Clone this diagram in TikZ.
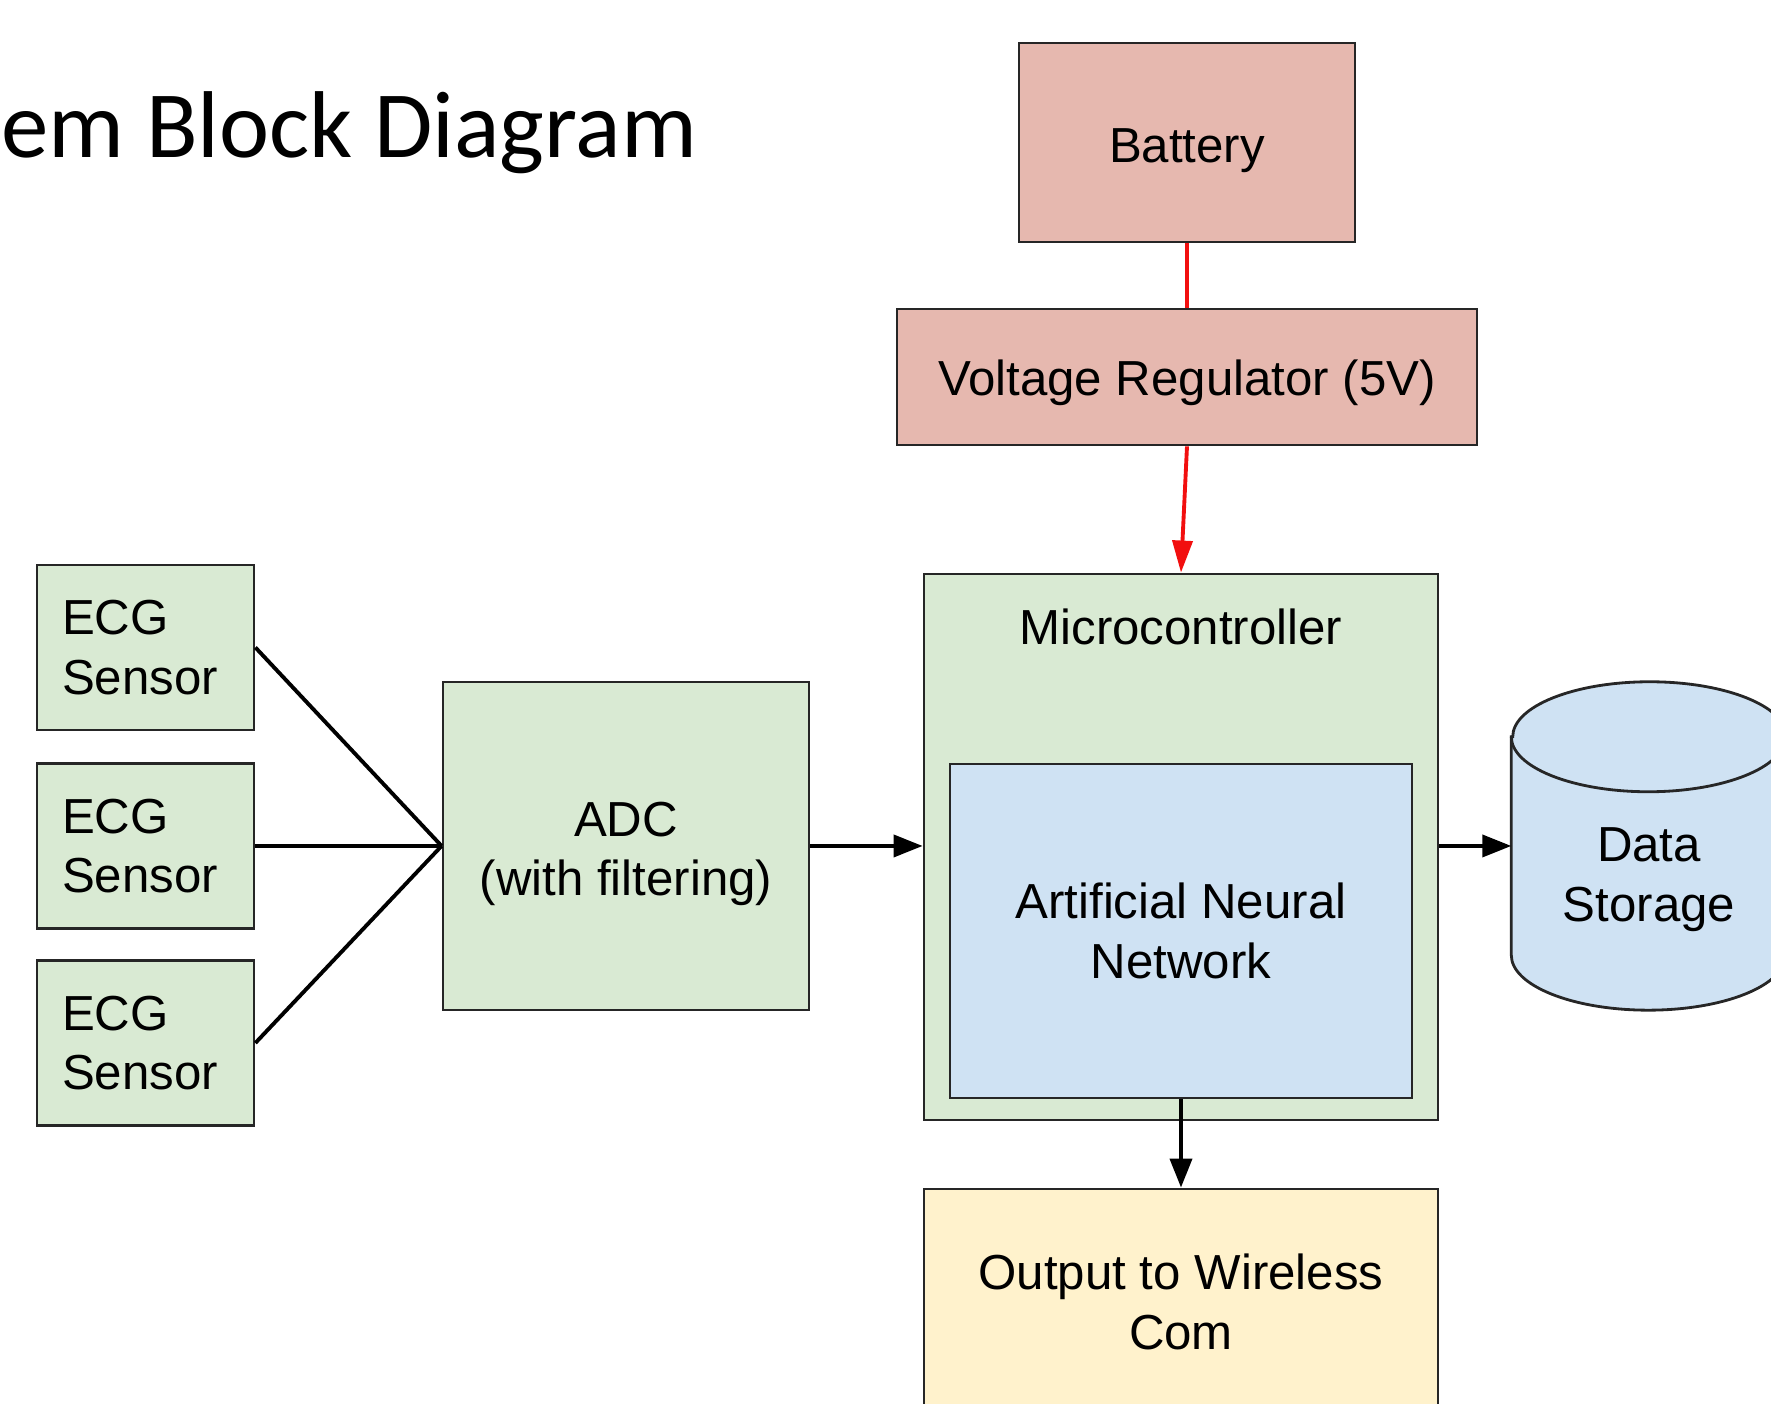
\documentclass[tikz,border=0pt]{standalone}
\usepackage{fontspec}
\setmainfont{Liberation Sans}
\newfontfamily\slidefont{Carlito}
\usetikzlibrary{arrows.meta,positioning,calc}
\definecolor{blockRed}{HTML}{E6B8AF}
\definecolor{blockGreen}{HTML}{D9EAD3}
\definecolor{blockBlue}{HTML}{CFE2F3}
\definecolor{blockYellow}{HTML}{FFF2CC}
\definecolor{powerLine}{HTML}{F20F0F}

\begin{document}
\begin{tikzpicture}[font=\fontsize{14}{17}\selectfont,
    blk/.style={draw=black!85, line width=0.8pt, inner sep=0pt, align=center},
    wire/.style={black, line width=1.1pt},
    feed/.style={wire, -{Triangle[length=0.29cm, width=0.22cm]}},
    power/.style={powerLine, line width=1.1pt}]
  \useasboundingbox (0,0) rectangle (17.71,14.04);

  % Slide title, cut off at the left edge
  \node[anchor=base west, inner sep=0pt, font=\slidefont\fontsize{27}{32}\selectfont]
    (title) at (0.01,12.46) {em Block Diagram};

  % Power supply
  \node[blk, fill=blockRed, minimum width=3.36cm, minimum height=1.99cm, text height=0.5cm]
    (battery) at (11.87,12.615) {Battery};
  \node[blk, fill=blockRed, minimum width=5.80cm, minimum height=1.36cm, text height=0.48cm]
    (vreg) at (11.87,10.27) {Voltage Regulator (5V)};

  % Microcontroller with the network inside
  \node[blk, fill=blockGreen, minimum width=5.14cm, minimum height=5.46cm,
        label={[anchor=north, inner sep=0pt, yshift=-0.36cm]north:Microcontroller}]
    (mcu) at (11.81,5.57) {};
  \node[blk, fill=blockBlue, minimum width=4.62cm, minimum height=3.34cm]
    (ann) at (11.81,4.73) {Artificial Neural\\Network};
  \node[blk, fill=blockYellow, minimum width=5.14cm, minimum height=2.26cm]
    (wireless) at (11.81,1.02) {Output to Wireless\\Com};

  % ADC
  \node[blk, fill=blockGreen, minimum width=3.66cm, minimum height=3.28cm]
    (adc) at (6.26,5.58) {};
  \node[align=center, inner sep=0pt] (adclbl) at ($(adc.center)+(0,-0.08)$) {ADC\\(with filtering)};

  % Sensors
  \foreach \i/\y in {1/7.565, 2/5.58, 3/3.61} {
    \node[blk, fill=blockGreen, minimum height=1.65cm, text width=1.67cm,
          inner xsep=0.25cm, align=left] (ecg\i) at (1.455,\y) {ECG\\Sensor};
    \draw[wire] (ecg\i.east) -- (adc.west);
  }

  % Data storage drum
  \node[minimum width=2.74cm, minimum height=3.27cm, inner sep=0pt] (store) at (16.49,5.58) {};
  \draw[draw=black!85, line width=0.8pt, fill=blockBlue]
    ($(store.north west)+(0,-0.55)$) -- ($(store.south west)+(0,0.55)$)
    arc[start angle=180, end angle=360, x radius=1.37cm, y radius=0.55cm]
    -- ($(store.north east)+(0,-0.55)$)
    arc[start angle=0, end angle=180, x radius=1.37cm, y radius=0.55cm] -- cycle;
  \draw[draw=black!85, line width=0.8pt]
    ($(store.north west)+(0,-0.55)$)
    arc[start angle=180, end angle=360, x radius=1.37cm, y radius=0.55cm];
  \node[align=center, inner sep=0pt] (storelbl) at ($(store.center)+(0,-0.34)$) {Data\\Storage};

  % Connections
  \draw[power] (battery.south) -- (vreg.north);
  \draw[power, -{Triangle[length=0.32cm, width=0.2cm]}] (vreg.south) -- (mcu.north);
  \draw[feed] (adc.east) -- (adc.east -| mcu.west);
  \draw[feed] (store.west -| mcu.east) -- (store.west);
  \draw[feed] (ann.south) -- (wireless.north);
\end{tikzpicture}
\end{document}
